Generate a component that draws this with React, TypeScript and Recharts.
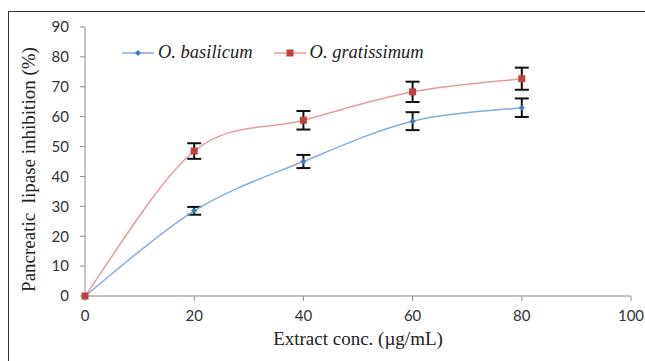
import React from 'react';
import { LineChart, Line, XAxis, YAxis, ErrorBar, Legend } from 'recharts';

// values
const concentrations = [0, 20, 40, 60, 80];
const basilicum = [0, 28.5, 45, 58.5, 63];
const basilicumErr = [0, 1.3, 2.2, 3, 3.1];
const gratissimum = [0, 48.5, 58.8, 68.3, 72.7];
const gratissimumErr = [0, 2.6, 3.1, 3.4, 3.7];
const xTicks = [0, 20, 40, 60, 80, 100];
const yTicks = [0, 10, 20, 30, 40, 50, 60, 70, 80, 90];

const BLUE_LINE = '#86acdd';
const BLUE_MARK = '#3d78c4';
const RED_LINE = '#e59c9b';
const RED_MARK = '#c0403e';
const AXIS = '#8c8c8c';

const data = concentrations.map((c, i) => ({
  conc: c,
  bas: basilicum[i],
  basErr: basilicumErr[i],
  gra: gratissimum[i],
  graErr: gratissimumErr[i],
}));

// Excel-style smoothed line (Catmull-Rom through the points)
const excelSmooth = (context: any) => {
  let pts: number[][] = [];
  return {
    areaStart() {},
    areaEnd() {},
    lineStart() {
      pts = [];
    },
    point(x: number, y: number) {
      pts.push([+x, +y]);
    },
    lineEnd() {
      if (!pts.length) return;
      context.moveTo(pts[0][0], pts[0][1]);
      for (let i = 0; i < pts.length - 1; i++) {
        const p0 = pts[i - 1] || pts[i];
        const p1 = pts[i];
        const p2 = pts[i + 1];
        const p3 = pts[i + 2] || p2;
        context.bezierCurveTo(
          p1[0] + (p2[0] - p0[0]) / 6,
          p1[1] + (p2[1] - p0[1]) / 6,
          p2[0] - (p3[0] - p1[0]) / 6,
          p2[1] - (p3[1] - p1[1]) / 6,
          p2[0],
          p2[1]
        );
      }
    },
  };
};

const DiamondDot = (props: any) => {
  const { cx, cy } = props;
  if (cx == null || cy == null) return null;
  return <path d={`M${cx} ${cy - 3}L${cx + 3} ${cy}L${cx} ${cy + 3}L${cx - 3} ${cy}Z`} fill={BLUE_MARK} />;
};

const SquareDot = (props: any) => {
  const { cx, cy } = props;
  if (cx == null || cy == null) return null;
  return <rect x={cx - 3.5} y={cy - 3.5} width={7} height={7} fill={RED_MARK} />;
};

const legendItems = [
  { name: 'O. basilicum', line: BLUE_LINE, mark: BLUE_MARK, square: false },
  { name: 'O. gratissimum', line: RED_LINE, mark: RED_MARK, square: true },
];

const renderLegend = () => (
  <div style={{ display: 'flex', alignItems: 'center', fontFamily: 'Liberation Serif', fontStyle: 'italic', fontSize: 18.5, color: '#222', whiteSpace: 'nowrap' }}>
    {legendItems.map((it) => (
      <div key={it.name} style={{ display: 'flex', alignItems: 'center', marginRight: 21 }}>
        <svg width={32} height={10} style={{ marginRight: 4 }}>
          <line x1={0} y1={5} x2={32} y2={5} stroke={it.line} strokeWidth={1.5} />
          {it.square ? (
            <rect x={12.5} y={1.5} width={7} height={7} fill={it.mark} />
          ) : (
            <path d="M16 2L19 5L16 8L13 5Z" fill={it.mark} />
          )}
        </svg>
        <span>{it.name}</span>
      </div>
    ))}
  </div>
);

export default function App() {
  return (
    <div
      style={{
        position: 'absolute',
        left: 8,
        top: 11,
        width: 637,
        height: 350,
        borderLeft: '1px solid #333',
        borderTop: '1px solid #333',
        boxSizing: 'border-box',
        background: '#fff',
      }}
    >
      <LineChart
        width={636}
        height={349}
        data={data}
        margin={{ top: 15, right: 14, left: 0, bottom: 0 }}
        style={{ fontFamily: 'Liberation Serif' }}
      >
        <XAxis
          dataKey="conc"
          type="number"
          domain={[0, 100]}
          ticks={xTicks}
          height={65}
          stroke={AXIS}
          tickSize={5}
          tickMargin={9}
          tick={{ fill: '#333', fontSize: 15, fontFamily: 'Lato' }}
          label={{
            value: 'Extract conc. (\u00b5g/mL)',
            position: 'insideBottom',
            offset: 16,
            fill: '#222',
            fontSize: 19,
            fontFamily: 'Liberation Serif',
          }}
        />
        <YAxis
          type="number"
          domain={[0, 90]}
          ticks={yTicks}
          width={76}
          stroke={AXIS}
          tickSize={5}
          tickMargin={11}
          tick={{ fill: '#333', fontSize: 15, fontFamily: 'Lato' }}
          label={{
            value: 'Pancreatic\u00a0 lipase inhibition (%)',
            angle: -90,
            position: 'insideLeft',
            offset: 19,
            dy: 8,
            textAnchor: 'middle',
            fill: '#222',
            fontSize: 19,
            fontFamily: 'Liberation Serif',
          }}
        />
        <Legend
          layout="horizontal"
          verticalAlign="middle"
          align="center"
          wrapperStyle={{ top: 30, left: 113, width: 'auto' }}
          content={renderLegend}
        />
        <Line
          dataKey="bas"
          name="O. basilicum"
          type={excelSmooth as any}
          stroke={BLUE_LINE}
          strokeWidth={1.5}
          dot={<DiamondDot />}
          activeDot={false}
          isAnimationActive={false}
        >
          <ErrorBar dataKey="basErr" width={7} stroke="#111" strokeWidth={2} direction="y" />
        </Line>
        <Line
          dataKey="gra"
          name="O. gratissimum"
          type={excelSmooth as any}
          stroke={RED_LINE}
          strokeWidth={1.5}
          dot={<SquareDot />}
          activeDot={false}
          isAnimationActive={false}
        >
          <ErrorBar dataKey="graErr" width={7} stroke="#111" strokeWidth={2} direction="y" />
        </Line>
      </LineChart>
    </div>
  );
}
